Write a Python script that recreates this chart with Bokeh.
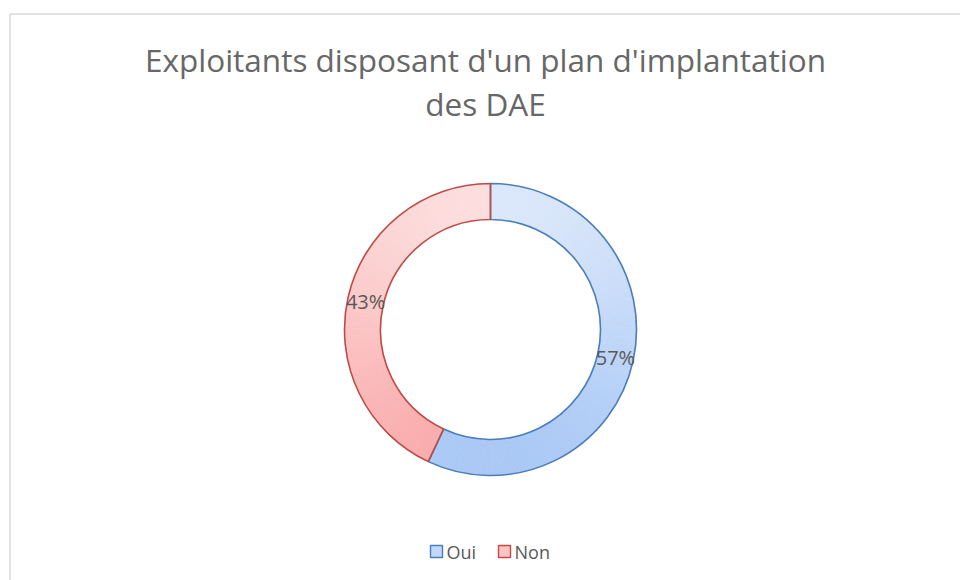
import numpy as np
from bokeh.plotting import figure
from bokeh.models import Range1d, ColumnDataSource
from bokeh.core.properties import value
from bokeh.embed import file_html
from bokeh.resources import INLINE

# ---- data ----
categories = ["Oui", "Non"]
values = [57, 43]
title_lines = ["Exploitants disposant d'un plan d'implantation", "des DAE"]

# ---- style ----
fill_light = {"Oui": (222, 233, 251), "Non": (253, 225, 225)}
fill_dark = {"Oui": (165, 198, 245), "Non": (249, 165, 165)}
edge_colors = {"Oui": "#4a7ebb", "Non": "#be4b48"}
FONT = "Open Sans"
TXT = "#595959"

W, H = 960, 580
p = figure(width=W, height=H, output_backend="svg", toolbar_location=None,
           x_range=Range1d(0, W), y_range=Range1d(0, H),
           x_axis_location=None, y_axis_location=None, min_border=0,
           outline_line_color=None)
p.grid.visible = False
p.background_fill_color = "white"
p.border_fill_color = "white"

def Y(y):
    return H - y

# chart area border
p.quad(left=[9.5], right=[975], top=[Y(13.5)], bottom=[-20],
       fill_color=None, line_color="#d9d9d9", line_width=1.5)

cx, cy = 490, Y(329)
r_out, r_in = 146, 110

total = float(sum(values))
fracs = [v / total for v in values]
# clockwise from 12 o'clock
starts, ends = [], []
a = np.pi / 2
for f in fracs:
    starts.append(a)
    a = a - 2 * np.pi * f
    ends.append(a)

def hexc(rgb):
    return "#%02x%02x%02x" % tuple(int(round(c)) for c in rgb)

# gradient fill via thin sub-wedges
for cat, s, e in zip(categories, starts, ends):
    n = max(8, int(abs(s - e) / np.radians(1.0)))
    edges = np.linspace(s, e, n + 1)
    lo = edges[1:]
    hi = edges[:-1]
    mid = (lo + hi) / 2
    rm = (r_in + r_out) / 2
    ymid = cy + rm * np.sin(mid)
    t = np.clip(((cy + r_out) - ymid) / (2 * r_out), 0, 1)
    L = np.array(fill_light[cat]); D = np.array(fill_dark[cat])
    cols = [hexc(L + tt * (D - L)) for tt in t]
    src = ColumnDataSource(dict(start=lo, end=hi, color=cols))
    p.annular_wedge(x=cx, y=cy, inner_radius=r_in, outer_radius=r_out,
                    start_angle="start", end_angle="end", source=src,
                    fill_color="color", line_color="color", line_width=0.6,
                    direction="anticlock")

# outlines
for cat, s, e in zip(categories, starts, ends):
    p.annular_wedge(x=cx, y=cy, inner_radius=r_in, outer_radius=r_out,
                    start_angle=e, end_angle=s, direction="anticlock",
                    fill_color=None, line_color=edge_colors[cat], line_width=1.6)

# data labels at ring middle
mids = [(s + e) / 2 for s, e in zip(starts, ends)]
rm = (r_in + r_out) / 2
lab_src = ColumnDataSource(dict(
    x=[cx + rm * np.cos(m) for m in mids],
    y=[cy + rm * np.sin(m) for m in mids],
    t=["%d%%" % round(f * 100) for f in fracs]))
p.text(x="x", y="y", text="t", source=lab_src, text_align="center",
       text_baseline="middle", text_font=value(FONT), text_font_size="20px",
       text_color=TXT)

# title
p.text(x=[485, 485], y=[Y(59), Y(103)], text=title_lines, text_align="center",
       text_baseline="alphabetic", text_font=value(FONT), text_font_size="31.5px",
       text_color="#676767")

# legend
leg_x = [436, 504]
leg_y = Y(551)
for cat, lx in zip(categories, leg_x):
    L = fill_light[cat]; D = fill_dark[cat]
    midc = hexc([(a_ + b_) / 2 for a_, b_ in zip(L, D)])
    p.rect(x=[lx], y=[leg_y], width=12, height=12, fill_color=midc,
           line_color=edge_colors[cat], line_width=1.4)
p.text(x=[lx + 10 for lx in leg_x], y=[leg_y, leg_y], text=categories,
       text_align="left", text_baseline="middle", text_font=value(FONT),
       text_font_size="18px", text_color=TXT)

open("out.html", "w").write(file_html(p, INLINE))
